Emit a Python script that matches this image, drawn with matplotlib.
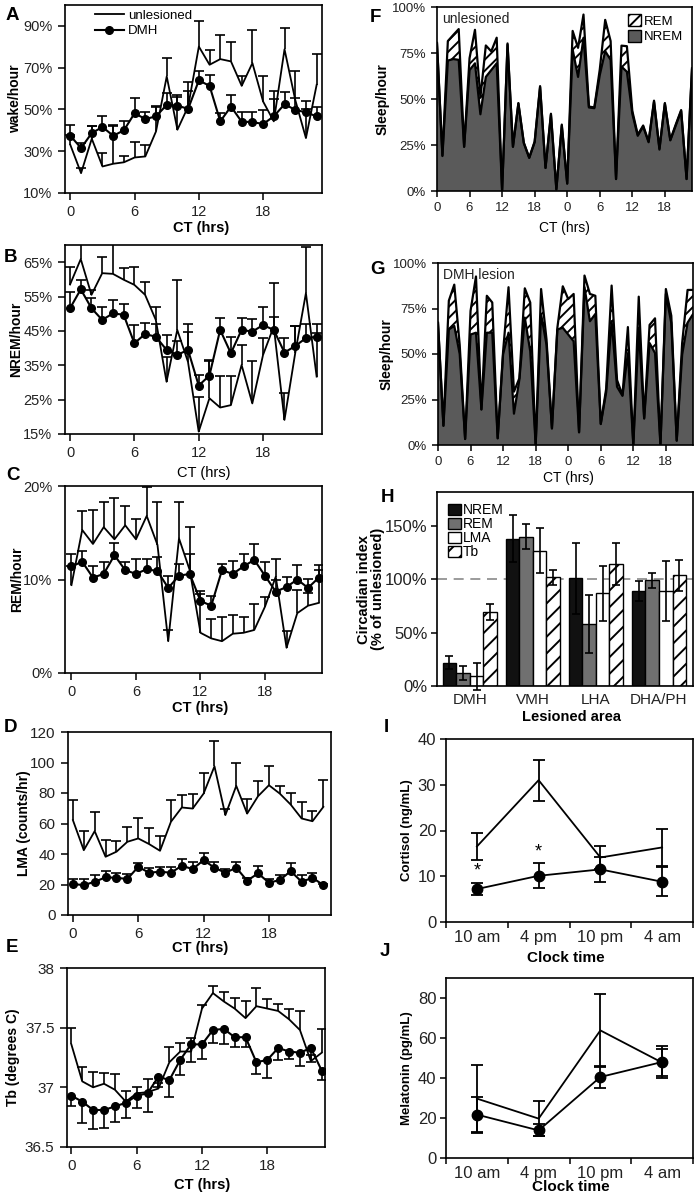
import numpy as np
import matplotlib
matplotlib.use('Agg')
import matplotlib.pyplot as plt
from matplotlib.ticker import PercentFormatter, FuncFormatter
from matplotlib.patches import Patch
from matplotlib.lines import Line2D

plt.rcParams['font.family'] = ['Liberation Sans', 'DejaVu Sans']
plt.rcParams['hatch.linewidth'] = 1.4
plt.rcParams['axes.linewidth'] = 1.2

# ---- data -------------------------------------------------------------
HOURS = np.arange(24)
HOURS48 = np.arange(48)

# A: wake per hour (%)
wake_unl = [33, 19.5, 36, 22.7, 24, 24.7, 27, 27.5, 39.5, 65.8, 40.3, 51.4, 80.1, 71.4, 74.1, 73, 61.3, 72.2, 53.8, 44.3, 78.8, 54.6, 36.3, 61.8]
wake_unl_err = [5, 2.5, 6, 6.4, 18, 2.8, 7.2, 5.5, 12, 8.7, 16.7, 11.5, 12.4, 7.1, 11.4, 9.5, 4.8, 15.9, 12, 14.7, 10.1, 13.9, 13.7, 14.8]
wake_dmh = [37.4, 31.5, 38.7, 41.6, 37.4, 40, 48.2, 45.4, 46.7, 52.2, 51.8, 50.3, 63.9, 61.3, 44.3, 51.4, 44.1, 44, 43, 46.7, 52.5, 49.8, 48.6, 46.7]
wake_dmh_err = [5.3, 2.4, 3.5, 5.1, 5.3, 4.6, 7.2, 3.2, 4.7, 5.9, 4.1, 8.3, 4.3, 5.3, 3.9, 5.6, 4.9, 4.6, 6.5, 8.3, 5.8, 5.6, 5.5, 4.7]

# B: NREM per hour (%)
nrem_unl = [58.5, 65.9, 55.5, 61.8, 61.6, 59.9, 58.4, 55.5, 48.2, 30.2, 45.3, 36, 15.7, 25.4, 22.7, 23.4, 35.1, 23.9, 38, 46.3, 19.1, 38.5, 56, 31.7]
nrem_unl_err = [5, 4.8, 1.5, 4.7, 9.1, 3.4, 5.3, 3.7, 3.9, 7.3, 14.6, 11, 10.2, 11.2, 9.2, 8.5, 5.8, 12.4, 5, 12.6, 7.7, 7.8, 13.4, 12.6]
nrem_dmh = [51.6, 57.1, 51.6, 48.2, 50.1, 49.7, 41.4, 44.1, 43.3, 39.5, 38, 39.5, 29.1, 32, 45.3, 38.5, 45.3, 44.8, 46.7, 45.3, 38.7, 40.6, 42.9, 43.3]
nrem_dmh_err = [4.6, 2.8, 2.9, 3.9, 3.9, 3.2, 5.2, 3.3, 3.7, 4.2, 4.1, 5.3, 3.1, 4.3, 3.4, 4.6, 3.4, 3.6, 5.4, 3.7, 4.2, 5.7, 4.1, 3.6]

# C: REM per hour (%)
rem_unl = [9.4, 15.3, 13.8, 15.6, 14.3, 15.8, 14.3, 16.8, 13.7, 3.4, 14.4, 11, 4.3, 3.7, 3.4, 4.2, 4.3, 4.6, 7.1, 10.3, 2.7, 6.4, 7.2, 7.5]
rem_unl_err = [2, 2, 3.6, 2.7, 4.4, 2.1, 2.2, 3.1, 4.6, 1.2, 3.9, 4.6, 4.1, 2.1, 2.6, 2, 1.7, 2.8, 1, 1.9, 1.8, 2.5, 1.4, 3.5]
rem_dmh = [11.4, 11.9, 10.2, 10.6, 12.6, 11, 10.6, 11.1, 10.9, 9.1, 10.4, 10.6, 7.7, 7.2, 11, 10.6, 11.4, 12.1, 10.4, 8.7, 9.2, 10, 9.1, 10.2]
rem_dmh_err = [1.3, 1.1, 1.2, 1.3, 1.3, 0.9, 1.6, 1.1, 1.5, 1.3, 1.3, 2.1, 1.1, 1, 0.7, 1.4, 1.3, 1.7, 1.5, 1.3, 1.1, 1.5, 1, 1.4]

# D: locomotor activity (counts/hr)
lma_unl = [62.2, 42.5, 55, 38.2, 41.5, 48, 50.2, 46.5, 42.1, 61.1, 70.5, 69.8, 79.6, 97.5, 65.5, 84.7, 66.5, 77.9, 85.1, 79.6, 72.4, 63.3, 61.5, 70.9]
lma_unl_err = [13.5, 12.7, 12.6, 10.9, 6.9, 9.4, 13.7, 10.7, 9.8, 14.6, 8, 9.4, 13.6, 16.6, 3.7, 15.2, 9.7, 10, 12.4, 4.8, 7.7, 10.9, 6.6, 17.5]
lma_dmh = [20.3, 19.6, 21.8, 24.7, 24.4, 23.6, 31.6, 27.7, 28.4, 27.7, 32.3, 30.1, 36, 31, 27.7, 31, 22.5, 27.3, 21.2, 22.9, 28.8, 21.8, 24.4, 19.6]
lma_dmh_err = [3, 3.7, 4.4, 4.1, 3.3, 3, 2.7, 2.8, 3.2, 3.5, 4.1, 4.4, 4.8, 3.5, 2.4, 3.5, 1.9, 5, 2.1, 3.3, 5, 4.4, 2.9, 1]

# E: body temperature (degrees C)
tb_unl = [37.36, 37.05, 37.0, 37.03, 36.98, 36.88, 36.95, 36.96, 36.99, 37.21, 37.3, 37.3, 37.66, 37.79, 37.72, 37.66, 37.58, 37.68, 37.66, 37.64, 37.57, 37.48, 37.22, 37.29]
tb_unl_err = [0.14, 0.12, 0.13, 0.09, 0.13, 0.09, 0.05, 0.11, 0.05, 0.13, 0.07, 0.11, 0.03, 0.06, 0.08, 0.09, 0.14, 0.15, 0.08, 0.06, 0.09, 0.16, 0.05, 0.2]
tb_dmh = [36.93, 36.88, 36.81, 36.81, 36.84, 36.87, 36.93, 36.95, 37.09, 37.06, 37.23, 37.36, 37.36, 37.48, 37.49, 37.42, 37.42, 37.21, 37.23, 37.33, 37.3, 37.29, 37.33, 37.14]
tb_dmh_err = [0.09, 0.18, 0.16, 0.15, 0.13, 0.13, 0.1, 0.16, 0.09, 0.14, 0.13, 0.15, 0.12, 0.11, 0.13, 0.08, 0.08, 0.1, 0.15, 0.1, 0.06, 0.11, 0.12, 0.08]

# F/G: 48 h sleep (NREM and NREM+REM), %
f_total = [80.5, 19.4, 81.5, 84.8, 88, 24.1, 72.2, 87.6, 50.9, 79.1, 75.9, 83.3, 0, 80.2, 24.1, 47.8, 26.3, 18.1, 26.9, 57, 12.6, 42, 0.9, 36.1,
           4.1, 87, 77.8, 95.9, 45.9, 45.4, 66, 93, 81.5, 6.5, 79, 78.7, 43.5, 30.6, 35.6, 26.9, 49.1, 23.1, 47.8, 27.8, 36.1, 44, 6.5, 66.7]
f_nrem = [80, 19, 70.9, 71.7, 71.3, 24, 65.7, 69.4, 41.7, 62, 65.7, 69.4, 0, 79.5, 24, 47.5, 26, 18, 26.5, 56.5, 12.5, 41.5, 0.9, 35.5,
          4, 76.9, 62, 83.3, 45.4, 45, 63, 76, 71.3, 6.5, 67.6, 64.8, 42, 30, 35, 26.5, 48.5, 22.5, 47.5, 27.5, 35.5, 43.5, 6.5, 66]
g_total = [67.2, 10.7, 79.3, 88.1, 55, 3.3, 73.7, 92.6, 19.6, 82, 78.3, 3.7, 51.5, 86.7, 29.3, 36.7, 86.1, 78.3, 0, 85.7, 58, 9.3, 64.4, 87.2,
           80.2, 83, 7, 93.1, 83, 82, 11.7, 31, 87.6, 35.7, 27.4, 64.8, 0, 81.5, 14.8, 66, 69.6, 0, 85.7, 71, 2.4, 56, 85.2, 85.2]
g_nrem = [67, 10.5, 63.5, 65.4, 50, 3.3, 60.7, 61.7, 19.5, 61.7, 61.7, 3.7, 50, 61.7, 17.2, 36, 70, 51.5, 0, 71.9, 55, 9, 63.5, 64.4,
          60.7, 57, 7, 86.7, 68, 72, 11.5, 29, 68, 32, 27, 50.5, 0, 63.5, 14.5, 56, 50.5, 0, 83, 67, 2.4, 49.6, 67.2, 71.9]

# H: circadian index (% of unlesioned)
areas = ['DMH', 'VMH', 'LHA', 'DHA/PH']
ci_nrem = [22, 138, 101, 89]
ci_nrem_err = [6, 22, 33, 9.5]
ci_rem = [12, 140, 58, 99]
ci_rem_err = [6.6, 11.6, 27, 6.6]
ci_lma = [9, 127, 87, 89]
ci_lma_err = [12.6, 21, 26, 28]
ci_tb = [69.5, 102, 114.6, 103.7]
ci_tb_err = [7.2, 7, 19.4, 14.4]

# I/J: hormones by clock time
clock = ['10 am', '4 pm', '10 pm', '4 am']
cort_unl = [16.5, 31, 14.1, 16.3]
cort_unl_err = [3, 4.5, 2.5, 4]
cort_dmh = [7.2, 10.1, 11.5, 8.8]
cort_dmh_err = [1.4, 2.7, 2.7, 3.2]
mel_unl = [29.7, 19.7, 63.8, 47.7]
mel_unl_err = [17, 8.6, 18.3, 6.6]
mel_dmh = [21.7, 13.8, 40.5, 48]
mel_dmh_err = [8.7, 3, 5.7, 8]

# ---- layout -----------------------------------------------------------
W, H = 695, 1199
fig = plt.figure(figsize=(W / 100, H / 100), dpi=100)
TXT = '#222222'


def add_box(l, t, r, b):
    ax = fig.add_axes([l / W, 1 - b / H, (r - l) / W, (b - t) / H])
    ax.box_px = (l, t, r, b)
    return ax


def ylab(ax, text, cx, size=10, **kw):
    l, t, r, b = ax.box_px
    ax.set_ylabel(text, fontsize=size, fontweight='bold', va='center', ha='center', **kw)
    ax.yaxis.set_label_coords((cx - l) / (r - l), 0.5)


def xlab(ax, text, cx, cy, size=10.5, weight='bold'):
    l, t, r, b = ax.box_px
    ax.set_xlabel(text, fontsize=size, fontweight=weight, va='center', ha='center')
    ax.xaxis.set_label_coords((cx - l) / (r - l), -(cy - b) / (b - t))


def letter(x, y, s):
    fig.text(x / W, 1 - y / H, s, fontsize=13.5, fontweight='bold', va='center', ha='left')


def one_sided(ax, x, y, err, down=False):
    y = np.asarray(y)
    err = np.asarray(err)
    end = y - err if down else y + err
    ax.vlines(x, y, end, color='black', lw=1.2, zorder=2)
    ax.plot(x, end, ls='none', marker='_', ms=7, mew=1.2, color='black', zorder=2)


def ts_panel(ax, unl, unl_err, dmh, dmh_err, dmh_down=False):
    one_sided(ax, HOURS, unl, unl_err)
    ax.plot(HOURS, unl, color='black', lw=1.3, zorder=3)
    one_sided(ax, HOURS, dmh, dmh_err, down=dmh_down)
    ax.plot(HOURS, dmh, color='black', lw=1.5, marker='o', ms=5.5, zorder=4)
    ax.set_xticks([0, 6, 12, 18])
    ax.tick_params(direction='out', length=5, width=1.1, pad=4, labelcolor=TXT)


# A
axA = add_box(65, 5, 322, 193)
ts_panel(axA, wake_unl, wake_unl_err, wake_dmh, wake_dmh_err)
axA.set_xlim(-0.5, 23.5)
axA.set_ylim(10, 100)
axA.set_yticks([10, 30, 50, 70, 90])
axA.yaxis.set_major_formatter(PercentFormatter(decimals=0))
axA.tick_params(labelsize=10.5)
ylab(axA, 'wake/hour', 15)
xlab(axA, 'CT (hrs)', 201, 228)
axA.legend(handles=[Line2D([], [], color='black', lw=1.3),
                    Line2D([], [], color='black', lw=1.5, marker='o', ms=5.5)],
           labels=['unlesioned', 'DMH'], loc='upper left', bbox_to_anchor=(0.07, 1.04),
           frameon=False, fontsize=9.5, handlelength=2.2, handletextpad=0.3, labelspacing=0.25)

# B
axB = add_box(65, 245, 322, 434)
ts_panel(axB, nrem_unl, nrem_unl_err, nrem_dmh, nrem_dmh_err)
axB.set_xlim(-0.47, 23.5)
axB.set_ylim(15, 70)
axB.set_yticks([15, 25, 35, 45, 55, 65])
axB.yaxis.set_major_formatter(PercentFormatter(decimals=0))
axB.tick_params(labelsize=10.5)
ylab(axB, 'NREM/hour', 16)
xlab(axB, 'CT (hrs)', 204, 473, weight='normal')

# C
axC = add_box(65, 486, 322, 673)
ts_panel(axC, rem_unl, rem_unl_err, rem_dmh, rem_dmh_err)
axC.set_xlim(-0.6, 23.3)
axC.set_ylim(0, 20)
axC.set_yticks([0, 10, 20])
axC.yaxis.set_major_formatter(PercentFormatter(decimals=0))
axC.tick_params(labelsize=10.5)
ylab(axC, 'REM/hour', 17)
xlab(axC, 'CT (hrs)', 200, 708)

# D
axD = add_box(68, 732, 331, 915)
ts_panel(axD, lma_unl, lma_unl_err, lma_dmh, lma_dmh_err)
axD.set_xlim(-0.45, 23.7)
axD.set_ylim(0, 120)
axD.set_yticks(np.arange(0, 121, 20))
axD.tick_params(labelsize=11)
ylab(axD, 'LMA (counts/hr)', 24)
xlab(axD, 'CT (hrs)', 200, 948)

# E
axE = add_box(67, 968, 325, 1147)
ts_panel(axE, tb_unl, tb_unl_err, tb_dmh, tb_dmh_err, dmh_down=True)
axE.set_xlim(-0.4, 23.3)
axE.set_ylim(36.5, 38)
axE.set_yticks([36.5, 37, 37.5, 38])
axE.yaxis.set_major_formatter(FuncFormatter(lambda v, p: f'{v:g}'))
axE.tick_params(labelsize=11)
ylab(axE, 'Tb (degrees C)', 13)
xlab(axE, 'CT (hrs)', 202, 1185)

# F / G stacked sleep
GREY = '#5a5a5a'


def sleep_panel(ax, nrem, total, title):
    ax.fill_between(HOURS48, 0, nrem, facecolor=GREY, edgecolor='none', zorder=1)
    ax.fill_between(HOURS48, nrem, total, facecolor='white', edgecolor='black',
                    hatch='///', linewidth=0, zorder=1)
    ax.plot(HOURS48, nrem, color='black', lw=1.6, zorder=2)
    ax.plot(HOURS48, total, color='black', lw=1.6, zorder=2)
    ax.set_xlim(0, 47)
    ax.set_ylim(0, 100)
    ax.set_xticks([0, 6, 12, 18, 24, 30, 36, 42])
    ax.set_xticklabels(['0', '6', '12', '18', '0', '6', '12', '18'])
    ax.set_yticks([0, 25, 50, 75, 100])
    ax.yaxis.set_major_formatter(PercentFormatter(decimals=0))
    ax.tick_params(direction='out', length=4, width=1.1, pad=4, labelsize=9.5, labelcolor=TXT)
    ax.text(0.02, 0.975, title, transform=ax.transAxes, fontsize=10, va='top', ha='left', color=TXT)


axF = add_box(437, 7, 692, 191)
sleep_panel(axF, f_nrem, f_total, 'unlesioned')
ylab(axF, 'Sleep/hour', 383)
xlab(axF, 'CT (hrs)', 564, 228, size=10, weight='normal')
axF.legend(handles=[Patch(facecolor='white', edgecolor='black', hatch='///'),
                    Patch(facecolor=GREY, edgecolor='black')],
           labels=['REM', 'NREM'], loc='upper right', bbox_to_anchor=(1.0, 1.01),
           frameon=False, fontsize=9.5, handlelength=1.0, handleheight=1.0,
           handletextpad=0.2, labelspacing=0.15, borderaxespad=0.3)

axG = add_box(438, 263, 693, 445)
sleep_panel(axG, g_nrem, g_total, 'DMH lesion')
ylab(axG, 'Sleep/hour', 387)
xlab(axG, 'CT (hrs)', 568, 478, size=10, weight='normal')

# H circadian index bars
axH = add_box(437, 492, 693, 686)
xpos = np.arange(len(areas))
bw = 0.215
ekw = dict(ecolor='black', elinewidth=1.2, capsize=3, capthick=1.2, clip_on=False)
axH.axhline(100, color='#8a8a8a', lw=1.2, ls=(0, (6, 4)), zorder=0)
axH.bar(xpos - 1.5 * bw, ci_nrem, bw, yerr=ci_nrem_err, color='#111111', edgecolor='black', lw=1, error_kw=ekw, label='NREM')
axH.bar(xpos - 0.5 * bw, ci_rem, bw, yerr=ci_rem_err, color='#707070', edgecolor='black', lw=1, error_kw=ekw, label='REM')
axH.bar(xpos + 0.5 * bw, ci_lma, bw, yerr=ci_lma_err, color='white', edgecolor='black', lw=1, error_kw=ekw, label='LMA')
axH.bar(xpos + 1.5 * bw, ci_tb, bw, yerr=ci_tb_err, color='white', edgecolor='black', lw=1, hatch='//', error_kw=ekw, label='Tb')
axH.set_xlim(-0.52, 3.54)
axH.set_ylim(0, 182)
axH.set_yticks([0, 50, 100, 150])
axH.yaxis.set_major_formatter(PercentFormatter(decimals=0))
axH.set_xticks(xpos)
axH.set_xticklabels(areas)
axH.tick_params(axis='y', direction='out', length=4, width=1.1, pad=3, labelsize=12, labelcolor=TXT)
axH.tick_params(axis='x', length=0, pad=5, labelsize=11, labelcolor=TXT)
ylab(axH, 'Circadian index\n(% of unlesioned)', 371, size=10.5, linespacing=1.0)
xlab(axH, 'Lesioned area', 572, 717, size=10.5)
axH.legend(loc='upper left', bbox_to_anchor=(0.0, 1.0), frameon=False, fontsize=10,
           handlelength=0.9, handleheight=0.9, handletextpad=0.15, labelspacing=0.0,
           borderaxespad=0.4)


# I / J hormones
def hormone_panel(ax, unl, unl_err, dmh, dmh_err):
    xs = np.arange(len(clock)) + 0.5
    ax.errorbar(xs, unl, yerr=unl_err, color='black', lw=1.3, capsize=4, capthick=1.3, elinewidth=1.3)
    ax.errorbar(xs, dmh, yerr=dmh_err, color='black', lw=1.3, marker='o', ms=7.5,
                capsize=4, capthick=1.3, elinewidth=1.3)
    ax.set_xlim(0, len(clock))
    ax.set_xticks(np.arange(len(clock) + 1))
    ax.set_xticklabels([])
    ax.set_xticks(xs, minor=True)
    ax.set_xticklabels(clock, minor=True)
    ax.tick_params(axis='x', which='major', direction='out', length=4, width=1.1)
    ax.tick_params(axis='x', which='minor', length=0, pad=6, labelsize=12, labelcolor=TXT)
    ax.tick_params(axis='y', direction='out', length=4, width=1.1, pad=3, labelsize=12, labelcolor=TXT)
    return xs


axI = add_box(446, 739, 693, 922)
xs = hormone_panel(axI, cort_unl, cort_unl_err, cort_dmh, cort_dmh_err)
axI.set_ylim(0, 40)
axI.set_yticks([0, 10, 20, 30, 40])
for i in (0, 1):
    axI.text(xs[i], cort_dmh[i] + cort_dmh_err[i] + 0.6, '*', ha='center', va='bottom', fontsize=13)
ylab(axI, 'Cortisol (ng/mL)', 407, size=9.5)
xlab(axI, 'Clock time', 566, 958, size=11)

axJ = add_box(446, 978, 693, 1158)
hormone_panel(axJ, mel_unl, mel_unl_err, mel_dmh, mel_dmh_err)
axJ.set_ylim(0, 90)
axJ.set_yticks([0, 20, 40, 60, 80])
ylab(axJ, 'Melatonin (pg/mL)', 407, size=9.5)
xlab(axJ, 'Clock time', 571, 1187, size=11)

# panel letters
letter(6, 15, 'A')
letter(4, 258, 'B')
letter(6, 476, 'C')
letter(4, 727, 'D')
letter(6, 948, 'E')
letter(370, 17, 'F')
letter(370, 270, 'G')
letter(381, 498, 'H')
letter(384, 728, 'I')
letter(380, 952, 'J')

fig.savefig('out.png', dpi=100)
